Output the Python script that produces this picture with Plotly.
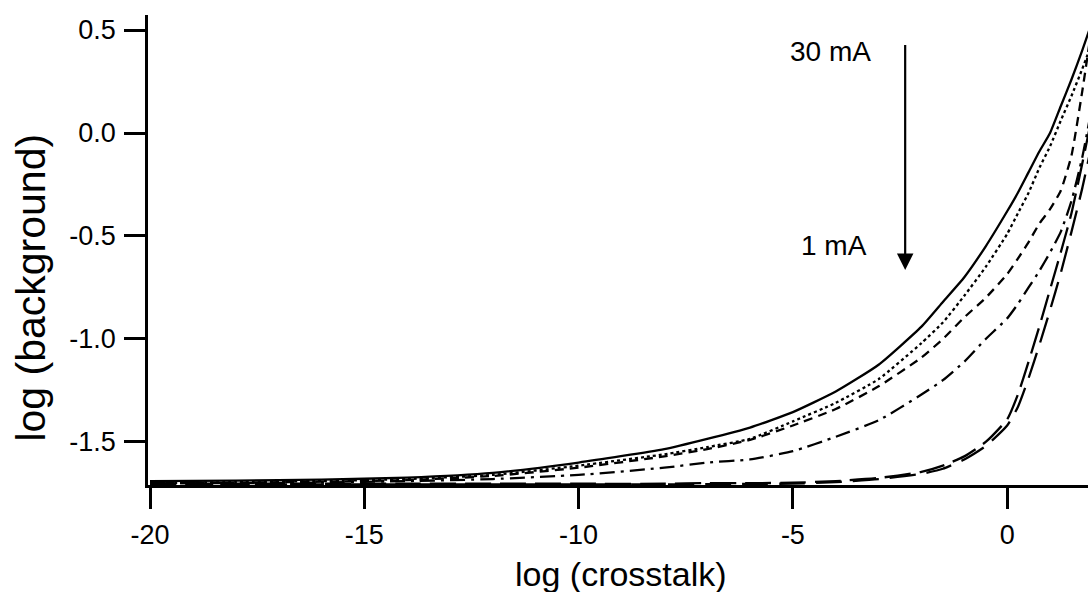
import plotly.graph_objects as go

x_vals = [-20, -18, -16, -14, -12, -10, -8, -7, -6, -5, -4, -3, -2, -1.5, -1, -0.5,
          0, 0.25, 0.5, 0.75, 1, 1.25, 1.5, 1.75, 2]

solid_y = [-1.69, -1.688, -1.683, -1.673, -1.65, -1.60, -1.535, -1.485, -1.43, -1.355,
           -1.255, -1.125, -0.94, -0.82, -0.70, -0.55, -0.38, -0.29, -0.19, -0.09,
           0.0, 0.13, 0.26, 0.40, 0.55]
dotted_y = [-1.70, -1.695, -1.69, -1.68, -1.66, -1.615, -1.56, -1.525, -1.485, -1.40,
            -1.31, -1.195, -1.02, -0.92, -0.79, -0.65, -0.49, -0.39, -0.29, -0.17,
            -0.065, 0.06, 0.18, 0.31, 0.45]
dashed_y = [-1.70, -1.698, -1.693, -1.685, -1.665, -1.625, -1.57, -1.535, -1.49, -1.42,
            -1.34, -1.23, -1.09, -1.00, -0.895, -0.80, -0.685, -0.61, -0.53, -0.44,
            -0.37, -0.28, -0.11, 0.20, 0.55]
dashdot_y = [-1.70, -1.70, -1.697, -1.69, -1.68, -1.66, -1.625, -1.60, -1.585, -1.545,
             -1.475, -1.395, -1.27, -1.20, -1.11, -1.00, -0.90, -0.83, -0.75, -0.67,
             -0.58, -0.48, -0.33, -0.12, 0.15]
longA_y = [-1.703, -1.703, -1.703, -1.703, -1.703, -1.703, -1.703, -1.70, -1.70, -1.698,
           -1.69, -1.675, -1.645, -1.615, -1.57, -1.50, -1.39, -1.27, -1.11, -0.94,
           -0.76, -0.58, -0.39, -0.15, 0.10]
longB_y = [-1.706, -1.706, -1.706, -1.706, -1.706, -1.706, -1.706, -1.705, -1.704, -1.702,
           -1.695, -1.68, -1.655, -1.63, -1.585, -1.52, -1.42, -1.33, -1.19, -1.03,
           -0.86, -0.68, -0.48, -0.27, -0.03]

x_tick_vals = [-20, -15, -10, -5, 0]
x_tick_text = ["-20", "-15", "-10", "-5", "0"]
y_tick_vals = [-1.5, -1.0, -0.5, 0.0, 0.5]
y_tick_text = ["-1.5", "-1.0", "-0.5", "0.0", "0.5"]

series = [
    (solid_y, "solid"),
    (dotted_y, "dot"),
    (dashed_y, "9px,6px"),
    (dashdot_y, "15px,6px,3px,6px"),
    (longA_y, "26px,9px"),
    (longB_y, "26px,11px"),
]

FONT = "Liberation Sans, Arial, Helvetica, sans-serif"

fig = go.Figure()
for ys, dash in series:
    fig.add_trace(go.Scatter(x=x_vals, y=ys, mode="lines",
                             line=dict(color="black", width=2.3, dash=dash,
                                       shape="spline", smoothing=0.5),
                             showlegend=False, hoverinfo="skip"))

# arrow from 30 mA to 1 mA
fig.add_annotation(x=-2.38, y=-0.665, ax=-2.38, ay=0.435, xref="x", yref="y",
                   axref="x", ayref="y", showarrow=True, arrowhead=2,
                   arrowsize=1.5, arrowwidth=2.2, arrowcolor="black", text="")
fig.add_annotation(x=-3.12, y=0.395, xref="x", yref="y", text="30 mA",
                   showarrow=False, xanchor="right", yanchor="middle",
                   font=dict(family=FONT, size=28, color="black"))
fig.add_annotation(x=-3.22, y=-0.545, xref="x", yref="y", text="1 mA",
                   showarrow=False, xanchor="right", yanchor="middle",
                   font=dict(family=FONT, size=28, color="black"))

# axis titles
fig.add_annotation(x=0.5032, y=-0.19, xref="paper", yref="paper",
                   text="log (crosstalk)", showarrow=False,
                   xanchor="center", yanchor="middle",
                   font=dict(family=FONT, size=34, color="black"))
fig.add_annotation(x=-0.1245, y=0.42, xref="paper", yref="paper",
                   text="log (background)", showarrow=False, textangle=-90,
                   xanchor="center", yanchor="middle",
                   font=dict(family=FONT, size=41, color="black"))

fig.update_layout(
    width=1088, height=592,
    margin=dict(l=148, r=0, t=15, b=107),
    paper_bgcolor="white", plot_bgcolor="white",
    font=dict(family=FONT, size=26, color="black"),
)
fig.update_xaxes(range=[-20.047, 1.886], showgrid=False, zeroline=False,
                 showline=True, linecolor="black", linewidth=2.5,
                 ticks="outside", ticklen=21, tickwidth=2.5, tickcolor="black",
                 tickvals=x_tick_vals, ticktext=x_tick_text,
                 ticklabelstandoff=3,
                 tickfont=dict(family=FONT, size=27))
fig.update_yaxes(range=[-1.709, 0.573], showgrid=False, zeroline=False,
                 showline=True, linecolor="black", linewidth=2.5,
                 ticks="outside", ticklen=21, tickwidth=2.5, tickcolor="black",
                 tickvals=y_tick_vals, ticktext=y_tick_text,
                 ticklabelstandoff=3,
                 tickfont=dict(family=FONT, size=27))

fig.write_html("out.html", config={"displayModeBar": False},
               post_script="document.body.style.margin='0';"
                           "document.body.style.overflow='hidden';")
